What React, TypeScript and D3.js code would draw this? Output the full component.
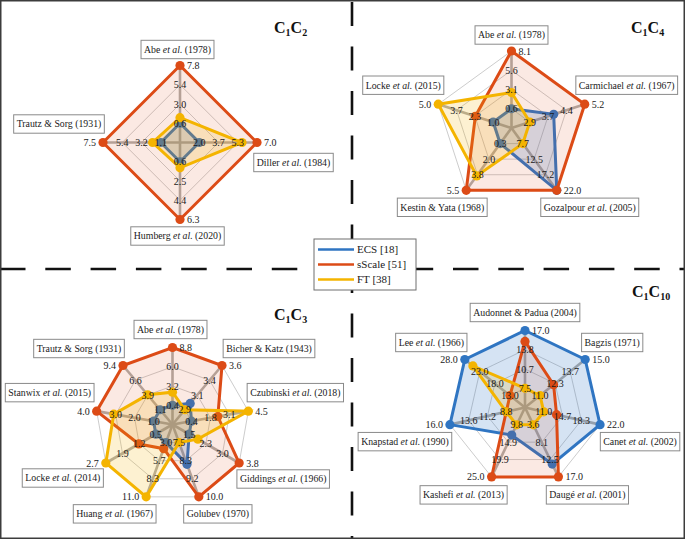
import React, { useEffect, useRef } from "react";
import * as d3 from "d3";

const W = 685;
const H = 539;
const R = 77;
const FONT = "'Liberation Serif', 'Times New Roman', serif";

const SERIES = ["ECS [18]", "sScale [51]", "FT [38]"];
const COLORS = ["#2f75c2", "#dc4b16", "#f4b400"];
const FILL_OPACITY = [0.2, 0.12, 0.18];

// ---------- C1C2 ----------
const c1c2Axes = ["Abe et al. (1978)", "Diller et al. (1984)", "Humberg et al. (2020)", "Trautz & Sorg (1931)"];
const c1c2Ticks = [
  [0.6, 3.0, 5.4, 7.8],
  [2.0, 3.7, 5.3, 7.0],
  [0.6, 2.5, 4.4, 6.3],
  [1.1, 3.2, 5.4, 7.5],
];
const c1c2ECS = [0.6, 2.0, 0.6, 1.1];
const c1c2SScale = [7.8, 7.0, 6.3, 7.5];
const c1c2FT = [1.3, 5.7, 1.2, 2.0];

// ---------- C1C4 ----------
const c1c4Axes = ["Abe et al. (1978)", "Carmichael et al. (1967)", "Gozalpour et al. (2005)", "Kestin & Yata (1968)", "Locke et al. (2015)"];
const c1c4Ticks = [
  [0.6, 3.1, 5.6, 8.1],
  [2.9, 3.7, 4.4, 5.2],
  [7.7, 12.5, 17.2, 22.0],
  [0.3, 2.0, 3.8, 5.5],
  [1.0, 2.3, 3.7, 5.0],
];
const c1c4ECS = [0.6, 3.9, 22.0, 0.3, 1.0];
const c1c4SScale = [8.1, 5.2, 22.0, 5.5, 2.3];
const c1c4FT = [2.7, 2.9, 7.7, 3.9, 5.0];

// ---------- C1C3 ----------
const c1c3Axes = [
  "Abe et al. (1978)", "Bicher & Katz (1943)", "Czubinski et al. (2018)", "Giddings et al. (1966)",
  "Golubev (1970)", "Huang et al. (1967)", "Locke et al. (2014)", "Stanwix et al. (2015)", "Trautz & Sorg (1931)",
];
const c1c3Ticks = [
  [0.4, 3.2, 6.0, 8.8],
  [2.9, 3.1, 3.4, 3.6],
  [0.4, 1.8, 3.1, 4.5],
  [1.5, 2.3, 3.0, 3.8],
  [7.5, 8.3, 9.2, 10.0],
  [3.0, 5.7, 8.3, 11.0],
  [0.5, 1.2, 1.9, 2.7],
  [1.0, 2.0, 3.0, 4.0],
  [1.1, 3.9, 6.6, 9.4],
];
const c1c3ECS = [0.4, 3.0, 0.4, 1.5, 8.5, 3.0, 0.5, 1.0, 1.1];
const c1c3SScale = [8.8, 3.6, 2.3, 3.8, 10.0, 3.9, 1.25, 4.0, 9.4];
const c1c3FT = [2.3, 2.9, 4.5, 1.9, 7.5, 11.0, 2.7, 3.1, 3.9];

// ---------- C1C10 ----------
const c1c10Axes = [
  "Audonnet & Padua (2004)", "Bagzis (1971)", "Canet et al. (2002)", "Daugé et al. (2001)",
  "Kashefi et al. (2013)", "Knapstad et al. (1990)", "Lee et al. (1966)",
];
const c1c10Ticks = [
  [7.5, 10.7, 13.8, 17.0],
  [11.0, 12.3, 13.7, 15.0],
  [11.0, 14.7, 18.3, 22.0],
  [3.6, 8.1, 12.5, 17.0],
  [9.8, 14.9, 19.9, 25.0],
  [8.8, 11.2, 13.6, 16.0],
  [13.0, 18.0, 23.0, 28.0],
];
const c1c10ECS = [17.0, 15.0, 22.0, 13.7, 12.8, 16.0, 28.0];
const c1c10SScale = [15.2, 12.2, 13.5, 17.0, 25.0, 8.8, 13.0];
const c1c10FT = [7.5, 11.0, 11.0, 3.6, 9.8, 8.8, 25.3];

// ---------- layout (positions, not data) ----------
const LAYOUT = [
  { cx: 180, cy: 142.5, tx: 274, ty: 33, sub: ["1", "2"],
    box: [[-2.5, -16], [36.5, 20], [-2.5, 16.5], [-44, -18.5]] },
  { cx: 511.5, cy: 128, tx: 631, ty: 33, sub: ["1", "4"],
    box: [[0, -16], [42, -19], [33, 17], [-24, 17], [-35, -19]] },
  { cx: 172.5, cy: 424.5, tx: 274, ty: 320, sub: ["1", "3"],
    box: [[-2, -18], [47, -17], [47, -18.5], [44, 16], [19, 17], [-31.5, 17], [-43, 15], [-47, -18.5], [-44, -17]] },
  { cx: 525, cy: 407.5, tx: 632, ty: 297, sub: ["1", "10"],
    box: [[0, -18], [27, -17], [40, 17], [29, 18], [-28, 18], [-45, 17], [-33.5, -17]] },
];

const CHARTS = [
  { axes: c1c2Axes, ticks: c1c2Ticks, values: [c1c2ECS, c1c2SScale, c1c2FT] },
  { axes: c1c4Axes, ticks: c1c4Ticks, values: [c1c4ECS, c1c4SScale, c1c4FT] },
  { axes: c1c3Axes, ticks: c1c3Ticks, values: [c1c3ECS, c1c3SScale, c1c3FT] },
  { axes: c1c10Axes, ticks: c1c10Ticks, values: [c1c10ECS, c1c10SScale, c1c10FT] },
];

function splitName(name: string) {
  const i = name.indexOf("et al.");
  if (i < 0) return [{ t: name, it: false }];
  return [
    { t: name.slice(0, i), it: false },
    { t: "et al.", it: true },
    { t: name.slice(i + 6), it: false },
  ];
}

function drawRadar(root: any, chart: any, lay: any) {
  const n = chart.axes.length;
  const g = root.append("g").attr("transform", `translate(${lay.cx},${lay.cy})`);
  const ang = (i: number) => (2 * Math.PI * i) / n;
  const pt = (i: number, r: number): [number, number] => [r * Math.sin(ang(i)), -r * Math.cos(ang(i))];
  const scales = chart.ticks.map((t: number[]) => d3.scaleLinear().domain([t[0], t[3]]).range([R / 4, R]));
  const line = d3.line();

  // rings
  [1, 2, 3, 4].forEach((k) => {
    g.append("path")
      .attr("d", line(d3.range(n).map((i) => pt(i, (k * R) / 4))) + "Z")
      .attr("fill", "none")
      .attr("stroke", "#c6c6c6")
      .attr("stroke-width", 0.9);
  });
  // spokes
  d3.range(n).forEach((i) => {
    const [x, y] = pt(i, R);
    g.append("line").attr("x1", 0).attr("y1", 0).attr("x2", x).attr("y2", y)
      .attr("stroke", "#b0aca8").attr("stroke-width", 2.6);
  });

  // series
  chart.values.forEach((vals: number[], s: number) => {
    const pts = vals.map((v, i) => pt(i, scales[i](v)));
    g.append("path")
      .attr("d", line(pts) + "Z")
      .attr("fill", COLORS[s])
      .attr("fill-opacity", FILL_OPACITY[s])
      .attr("stroke", COLORS[s])
      .attr("stroke-width", 3)
      .attr("stroke-linejoin", "miter");
    pts.forEach(([x, y]) => {
      g.append("circle").attr("cx", x).attr("cy", y).attr("r", 4.6).attr("fill", COLORS[s]);
    });
  });

  // ring labels
  const fmt = d3.format(".1f");
  chart.ticks.forEach((t: number[], i: number) => {
    t.slice(0, 3).forEach((v, k) => {
      const [x, y] = pt(i, ((k + 1) * R) / 4);
      g.append("text").attr("x", x).attr("y", y).attr("dy", "0.35em")
        .attr("text-anchor", "middle").attr("font-family", FONT).attr("font-size", 10)
        .attr("fill", "#1a1a1a").text(fmt(v));
    });
    const [x, y] = pt(i, R);
    const right = Math.sin(ang(i)) > -1e-6;
    g.append("text").attr("x", x + (right ? 7 : -7)).attr("y", y).attr("dy", "0.35em")
      .attr("text-anchor", right ? "start" : "end").attr("font-family", FONT).attr("font-size", 10)
      .attr("fill", "#1a1a1a").text(fmt(t[3]));
  });

  // axis name boxes
  chart.axes.forEach((name: string, i: number) => {
    const [vx, vy] = pt(i, R);
    const [dx, dy] = lay.box[i];
    const bx = vx + dx;
    const by = vy + dy;
    const bg = g.append("g");
    const rect = bg.append("rect");
    const txt = bg.append("text").attr("x", bx).attr("y", by).attr("dy", "0.35em")
      .attr("text-anchor", "middle").attr("font-family", FONT).attr("font-size", 9.8)
      .attr("fill", "#1a1a1a").style("white-space", "pre");
    splitName(name).forEach((p) => {
      txt.append("tspan").attr("font-style", p.it ? "italic" : "normal").text(p.t);
    });
    const bb = (txt.node() as SVGTextElement).getBBox();
    rect.attr("x", bb.x - 3).attr("y", by - 9.2).attr("width", bb.width + 6).attr("height", 18.4)
      .attr("fill", "#ffffff").attr("stroke", "#8a8a8a").attr("stroke-width", 1);
  });

  // title
  const tt = root.append("text").attr("x", lay.tx).attr("y", lay.ty)
    .attr("font-family", FONT).attr("font-weight", "bold").attr("font-size", 16).attr("fill", "#111");
  tt.append("tspan").text("C");
  tt.append("tspan").attr("font-size", 10).attr("dy", 3).text(lay.sub[0]);
  tt.append("tspan").attr("dy", -3).text("C");
  tt.append("tspan").attr("font-size", 10).attr("dy", 3).text(lay.sub[1]);
}

export default function App() {
  const ref = useRef<SVGSVGElement | null>(null);

  useEffect(() => {
    const svg = d3.select(ref.current);
    svg.selectAll("*").remove();
    svg.append("rect").attr("x", 0).attr("y", 0).attr("width", W).attr("height", H).attr("fill", "#fff");

    // dashed dividers
    svg.append("line").attr("x1", 0).attr("x2", W).attr("y1", 269).attr("y2", 269)
      .attr("stroke", "#111").attr("stroke-width", 2.6).attr("stroke-dasharray", "25.5,19.8");
    svg.append("line").attr("x1", 352).attr("x2", 352).attr("y1", 2).attr("y2", H)
      .attr("stroke", "#111").attr("stroke-width", 2.6).attr("stroke-dasharray", "24,20.5");

    CHARTS.forEach((c, k) => drawRadar(svg, c, LAYOUT[k]));

    // legend
    const lg = svg.append("g");
    lg.append("rect").attr("x", 314).attr("y", 239).attr("width", 102).attr("height", 51)
      .attr("fill", "#fff").attr("stroke", "#6f6f6f").attr("stroke-width", 1);
    SERIES.forEach((s, i) => {
      const y = 249.5 + i * 15;
      lg.append("line").attr("x1", 318).attr("x2", 354).attr("y1", y).attr("y2", y)
        .attr("stroke", COLORS[i]).attr("stroke-width", 2.6);
      lg.append("text").attr("x", 357).attr("y", y).attr("dy", "0.35em")
        .attr("font-family", FONT).attr("font-size", 11).attr("fill", "#1a1a1a").text(s);
    });

    // frame
    svg.append("rect").attr("x", 0.75).attr("y", 0.75).attr("width", W - 1.5).attr("height", H - 1.5)
      .attr("fill", "none").attr("stroke", "#3c3c3c").attr("stroke-width", 1.5);
  }, []);

  return (
    <svg ref={ref} width={W} height={H} style={{ position: "absolute", left: 0, top: 0, display: "block" }} />
  );
}
